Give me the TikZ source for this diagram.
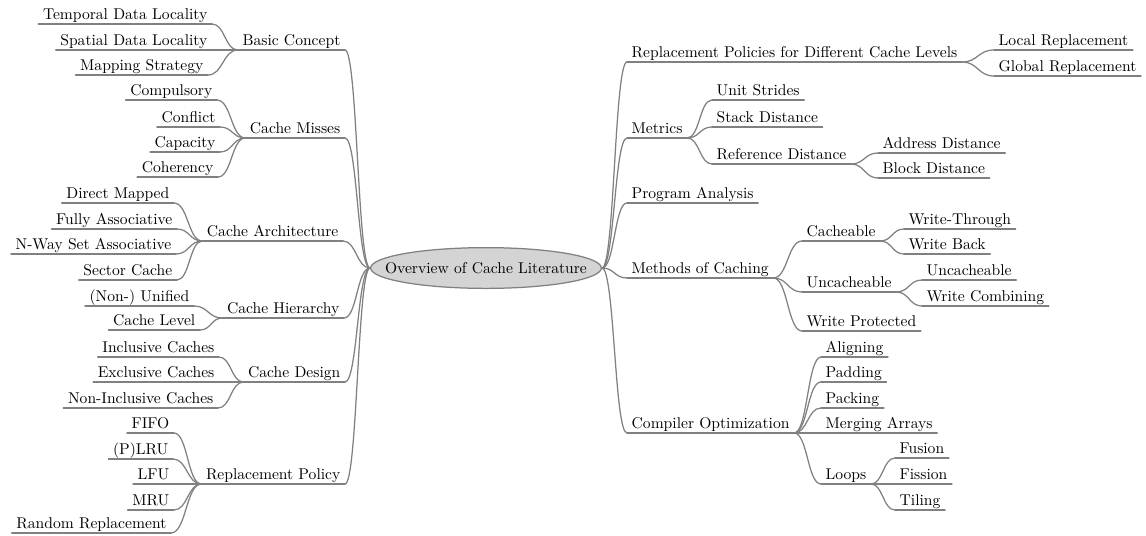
\documentclass[tikz,border=0pt]{standalone}
\usetikzlibrary{calc,shapes.geometric}

\tikzset{
  branch/.style={draw=black!50, line width=0.8pt, line cap=round},
  sway/.style={to path={let \p1=(\tikztostart), \p2=(\tikztotarget) in
    .. controls ({(\x1+\x2)/2},\y1) and ({(\x1+\x2)/2},\y2) .. (\tikztotarget)}},
  topic/.style={inner xsep=3pt, inner ysep=3.2pt, text depth=0pt, outer sep=0pt,
    append after command={(\tikzlastnode.south west) edge[branch] (\tikzlastnode.south east)}},
  ltopic/.style={topic, anchor=south east},
  rtopic/.style={topic, anchor=south west},
  hub/.style={ellipse, draw=black!50, fill=black!17, line width=0.8pt,
    inner xsep=-12.4pt, inner ysep=5.6pt}
}

\begin{document}
\begin{tikzpicture}[x=0.641pt, y=-0.641pt]
\useasboundingbox (0,0) rectangle (1146,535);

\node[hub] (root) at (486,268) {Overview of Cache Literature};

% left half
\node[ltopic] (basic) at (345,50) {Basic Concept};
\node[ltopic] (tdl) at (212,24) {Temporal Data Locality};
\node[ltopic] (sdl) at (212,50) {Spatial Data Locality};
\node[ltopic] (mst) at (208,75) {Mapping Strategy};

\node[ltopic] (cmiss) at (345,138) {Cache Misses};
\node[ltopic] (comp) at (217,100) {Compulsory};
\node[ltopic] (conf) at (220,127) {Conflict};
\node[ltopic] (capa) at (220,152) {Capacity};
\node[ltopic] (cohe) at (218,177) {Coherency};

\node[ltopic] (carch) at (343,241) {Cache Architecture};
\node[ltopic] (dmap) at (174,203) {Direct Mapped};
\node[ltopic] (fass) at (177,229) {Fully Associative};
\node[ltopic] (nway) at (176,254) {N-Way Set Associative};
\node[ltopic] (sect) at (177,280) {Sector Cache};

\node[ltopic] (chier) at (344,318) {Cache Hierarchy};
\node[ltopic] (nonu) at (194,306) {(Non-) Unified};
\node[ltopic] (clev) at (200,330) {Cache Level};

\node[ltopic] (cdes) at (345,382) {Cache Design};
\node[ltopic] (incl) at (219,357) {Inclusive Caches};
\node[ltopic] (excl) at (219,382) {Exclusive Caches};
\node[ltopic] (ninc) at (218,408) {Non-Inclusive Caches};

\node[ltopic] (rpol) at (345,484) {Replacement Policy};
\node[ltopic] (fifo) at (174,433) {FIFO};
\node[ltopic] (plru) at (173,459) {(P)LRU};
\node[ltopic] (lfu) at (174,484) {LFU};
\node[ltopic] (mru) at (174,510) {MRU};
\node[ltopic] (rand) at (171,533) {Random Replacement};

% right half
\node[rtopic] (repl) at (627,62) {Replacement Policies for Different Cache Levels};
\node[rtopic] (locr) at (994,50) {Local Replacement};
\node[rtopic] (glor) at (994,76) {Global Replacement};

\node[rtopic] (metr) at (627,138) {Metrics};
\node[rtopic] (unit) at (712,100) {Unit Strides};
\node[rtopic] (stck) at (712,127) {Stack Distance};
\node[rtopic] (refd) at (712,164) {Reference Distance};
\node[rtopic] (addr) at (878,153) {Address Distance};
\node[rtopic] (blkd) at (878,178) {Block Distance};

\node[rtopic] (prog) at (627,203) {Program Analysis};

\node[rtopic] (meth) at (627,278) {Methods of Caching};
\node[rtopic] (cach) at (802,241) {Cacheable};
\node[rtopic] (wthr) at (904,229) {Write-Through};
\node[rtopic] (wbck) at (904,254) {Write Back};
\node[rtopic] (ucac) at (802,292) {Uncacheable};
\node[rtopic] (ucc2) at (922,280) {Uncacheable};
\node[rtopic] (wcmb) at (922,306) {Write Combining};
\node[rtopic] (wprt) at (802,331) {Write Protected};

\node[rtopic] (copt) at (627,433) {Compiler Optimization};
\node[rtopic] (alig) at (821,357) {Aligning};
\node[rtopic] (padd) at (821,382) {Padding};
\node[rtopic] (pack) at (821,408) {Packing};
\node[rtopic] (merg) at (821,433) {Merging Arrays};
\node[rtopic] (loop) at (821,484) {Loops};
\node[rtopic] (fusn) at (895,458) {Fusion};
\node[rtopic] (fisn) at (895,484) {Fission};
\node[rtopic] (tili) at (895,510) {Tiling};

% connectors
\foreach \br in {basic,cmiss,carch,chier,cdes,rpol}
  \draw[branch] (root.west) to[sway] (\br.south east);
\foreach \br in {repl,metr,prog,meth,copt}
  \draw[branch] (root.east) to[sway] (\br.south west);

\foreach \lf in {tdl,sdl,mst} \draw[branch] (basic.south west) to[sway] (\lf.south east);
\foreach \lf in {comp,conf,capa,cohe} \draw[branch] (cmiss.south west) to[sway] (\lf.south east);
\foreach \lf in {dmap,fass,nway,sect} \draw[branch] (carch.south west) to[sway] (\lf.south east);
\foreach \lf in {nonu,clev} \draw[branch] (chier.south west) to[sway] (\lf.south east);
\foreach \lf in {incl,excl,ninc} \draw[branch] (cdes.south west) to[sway] (\lf.south east);
\foreach \lf in {fifo,plru,lfu,mru,rand} \draw[branch] (rpol.south west) to[sway] (\lf.south east);

\foreach \lf in {locr,glor} \draw[branch] (repl.south east) to[sway] (\lf.south west);
\foreach \lf in {unit,stck,refd} \draw[branch] (metr.south east) to[sway] (\lf.south west);
\foreach \lf in {addr,blkd} \draw[branch] (refd.south east) to[sway] (\lf.south west);
\foreach \lf in {cach,ucac,wprt} \draw[branch] (meth.south east) to[sway] (\lf.south west);
\foreach \lf in {wthr,wbck} \draw[branch] (cach.south east) to[sway] (\lf.south west);
\foreach \lf in {ucc2,wcmb} \draw[branch] (ucac.south east) to[sway] (\lf.south west);
\foreach \lf in {alig,padd,pack,merg,loop} \draw[branch] (copt.south east) to[sway] (\lf.south west);
\foreach \lf in {fusn,fisn,tili} \draw[branch] (loop.south east) to[sway] (\lf.south west);
\end{tikzpicture}
\end{document}
